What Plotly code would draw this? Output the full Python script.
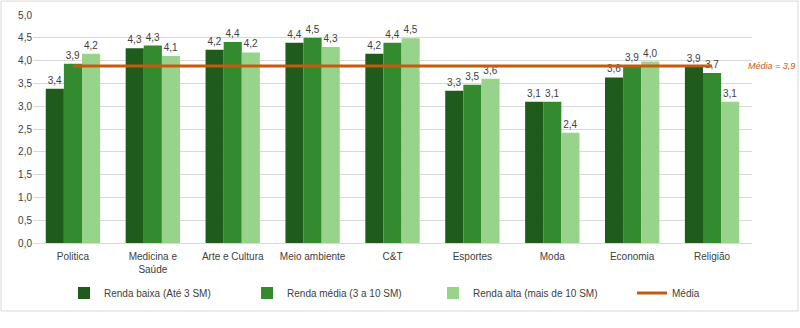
import plotly.graph_objects as go

categories = ["Politica", "Medicina e<br>Saúde", "Arte e Cultura", "Meio ambiente", "C&T",
              "Esportes", "Moda", "Economia", "Religião"]
renda_baixa = [3.38, 4.27, 4.24, 4.39, 4.15, 3.34, 3.10, 3.63, 3.86]
renda_media = [3.93, 4.33, 4.41, 4.50, 4.39, 3.47, 3.10, 3.88, 3.73]
renda_alta = [4.15, 4.10, 4.18, 4.30, 4.49, 3.60, 2.42, 3.98, 3.10]
media_value = 3.88
series_names = ["Renda baixa (Até 3 SM)", "Renda média (3 a 10 SM)", "Renda alta (mais de 10 SM)"]
colors = ["#1f5b1a", "#348a2f", "#97d38b"]
y_ticks = [0, 0.5, 1, 1.5, 2, 2.5, 3, 3.5, 4, 4.5, 5]

FONT = "Liberation Sans"
TXT = "#404040"
legend_ids = ["legend", "legend2", "legend3", "legend4"]

fig = go.Figure()
for name, vals, col, lg in zip(series_names, [renda_baixa, renda_media, renda_alta], colors, legend_ids):
    fig.add_trace(go.Bar(
        x=categories, y=vals, name=name, legend=lg,
        marker=dict(color=col, line=dict(width=0)),
        text=[f"{v:.1f}".replace(".", ",") for v in vals], textposition="outside",
        textfont=dict(size=10, color=TXT, family=FONT), cliponaxis=False,
    ))
fig.add_trace(go.Scatter(
    x=categories, y=[media_value] * len(categories), mode="lines", name="Média",
    legend="legend4", line=dict(color="#c55a11", width=3),
))

fig.add_annotation(x=1.062, xref="paper", xanchor="right", y=media_value, yref="y",
                   text="<i>Média = 3,9</i>", showarrow=False,
                   font=dict(size=9, color="#c55a11", family=FONT))

fig.add_shape(type="rect", xref="paper", yref="paper", x0=-0.0445, x1=1.064, y0=-0.298, y1=1.061,
              line=dict(color="#d9d9d9", width=1), fillcolor="rgba(0,0,0,0)", layer="below")

leg_common = dict(orientation="h", xanchor="left", y=-0.219, yanchor="middle",
                  font=dict(size=10, color=TXT, family=FONT), bgcolor="rgba(0,0,0,0)")
fig.update_layout(
    width=800, height=328,
    margin=dict(l=33, r=48, t=15, b=85, autoexpand=False),
    paper_bgcolor="white", plot_bgcolor="white",
    separators=",.",
    barmode="group", bargap=0.32, bargroupgap=0,
    font=dict(family=FONT, size=10, color=TXT),
    xaxis=dict(showgrid=False, showline=True, linecolor="#d9d9d9", ticks="",
               ticklabelstandoff=4, tickfont=dict(size=10, color=TXT)),
    yaxis=dict(range=[0, 5], tickvals=y_ticks, tickformat=".1f", showgrid=True,
               gridcolor="#d9d9d9", zeroline=False, showline=False, ticks="",
               tickfont=dict(size=10, color=TXT)),
    legend=dict(x=0.0431, **leg_common),
    legend2=dict(x=0.2977, **leg_common),
    legend3=dict(x=0.5563, **leg_common),
    legend4=dict(x=0.8331, **leg_common),
    showlegend=True,
)
fig.write_html("out.html", config={"displayModeBar": False},
               post_script="document.body.style.margin='0px';")
